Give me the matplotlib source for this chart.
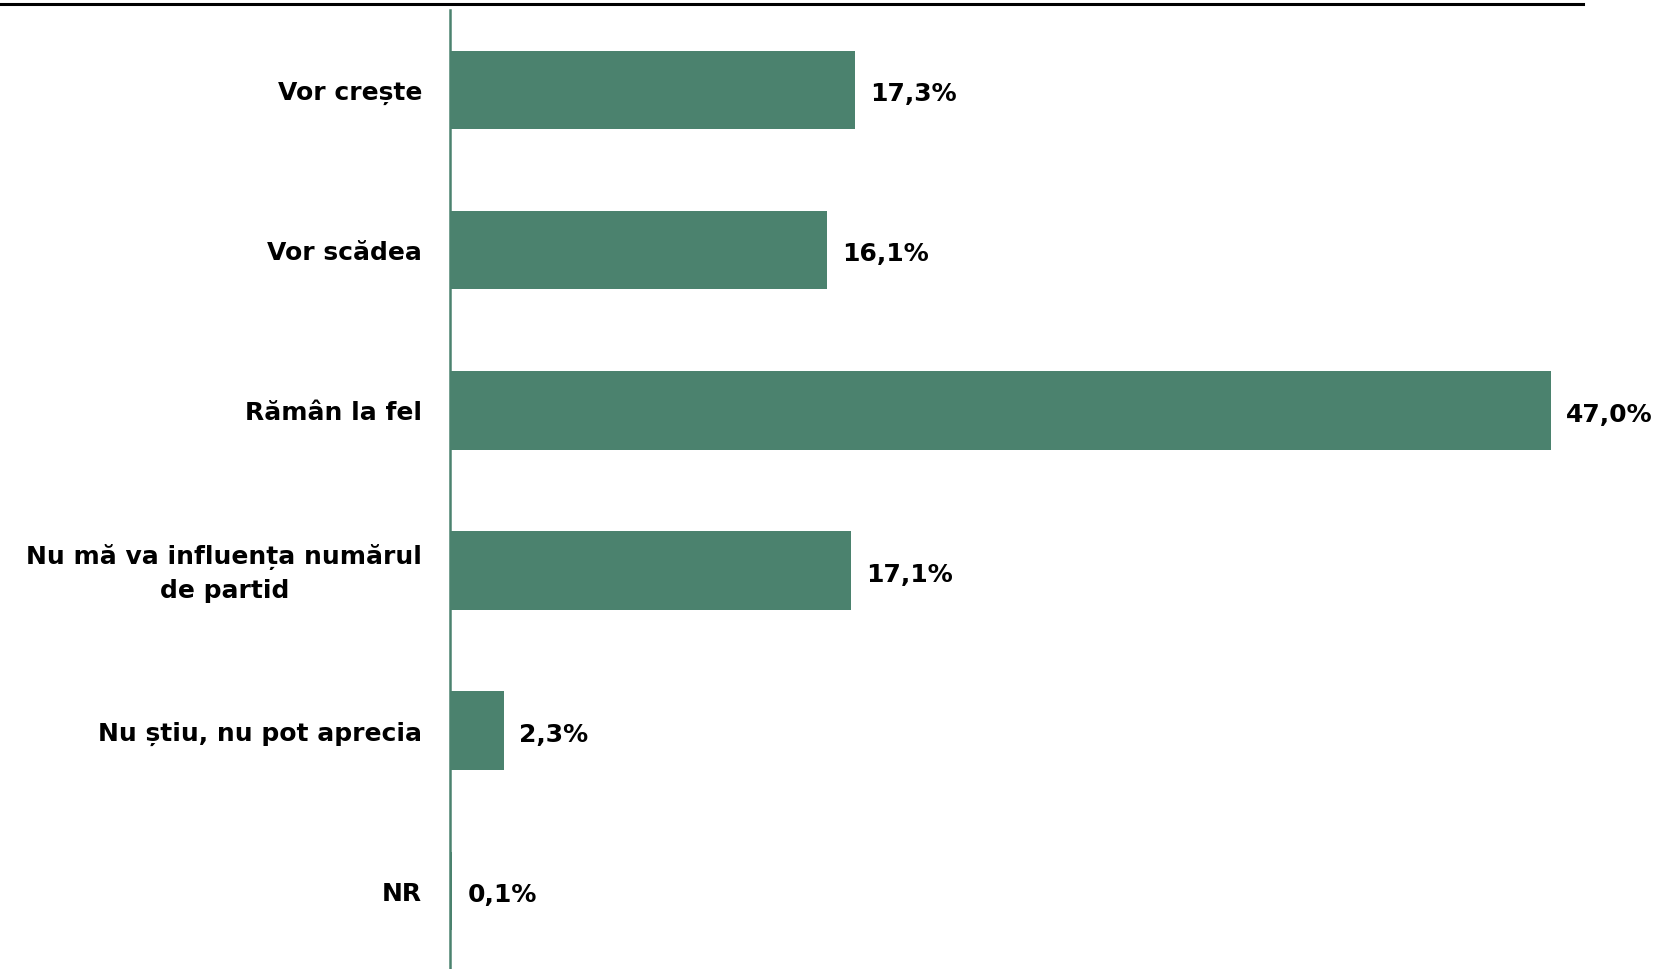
import matplotlib
matplotlib.use("Agg")
import matplotlib.pyplot as plt
from matplotlib.lines import Line2D

categorii = ["Vor crește", "Vor scădea", "Rămân la fel",
             "Nu mă va influența numărul\nde partid", "Nu știu, nu pot aprecia", "NR"]
procente = [17.3, 16.1, 47.0, 17.1, 2.3, 0.1]
etichete = ["17,3%", "16,1%", "47,0%", "17,1%", "2,3%", "0,1%"]

verde = "#4b826e"

fig = plt.figure(figsize=(16.59, 9.69), dpi=100)
ax = fig.add_axes([0.2713, -0.002, 0.706, 0.9917])

pozitii = list(range(len(categorii)))
ax.barh(pozitii, procente, height=0.49, color=verde)
ax.set_ylim(len(categorii) - 0.5, -0.5)
ax.set_xlim(0, 50)

for p, v, t in zip(pozitii, procente, etichete):
    ax.annotate(t, (v, p), xytext=(11, -3), textcoords="offset points",
                va="center", ha="left", fontsize=18, fontweight="bold")

# etichetele categoriilor
ax.set_yticks([])
for p, c in zip(pozitii, categorii):
    ax.annotate(c, (0, p), xycoords=("axes fraction", "data"),
                xytext=(-20, -2), textcoords="offset points",
                ha="right", va="center", ma="center", linespacing=1.45,
                fontsize=18, fontweight="bold")
ax.set_xticks([])
for s in ["top", "right", "bottom"]:
    ax.spines[s].set_visible(False)
ax.spines["left"].set_color(verde)
ax.spines["left"].set_linewidth(1.8)

# linia neagra de sus
fig.add_artist(Line2D([0, 0.954], [0.996, 0.996], color="black", lw=2.2,
                      transform=fig.transFigure))

fig.savefig("out.png", dpi=100)
